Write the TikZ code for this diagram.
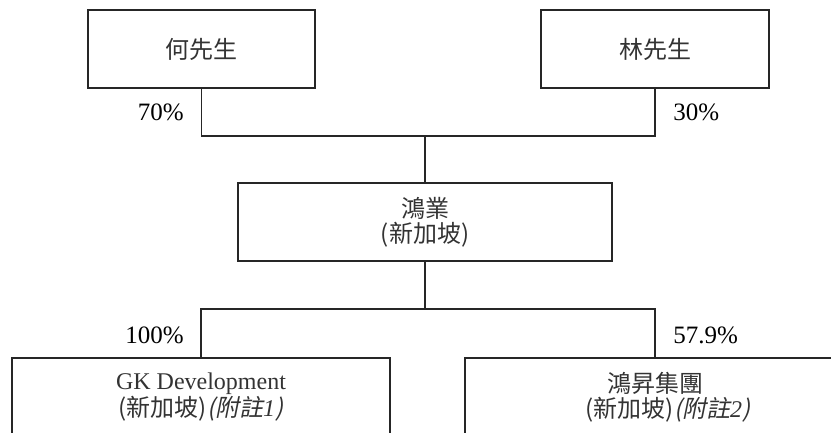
\documentclass[tikz,border=0pt]{standalone}
\usepackage{fontspec}
\setmainfont{Liberation Serif}
\newfontfamily\cjk{Noto Sans CJK TC}
\newfontfamily\cjkit[FakeSlant=0.2]{Noto Sans CJK TC}

\begin{document}
\begin{tikzpicture}[x=0.5pt, y=-0.5pt,
    box/.style={draw=black!85, line width=0.6pt, minimum height=39pt, align=center, inner sep=0pt, font=\fontsize{12}{12.5}\selectfont, text=black!80},
    pct/.style={inner sep=0pt, font=\fontsize{12.5}{14}\selectfont, text=black},
    link/.style={draw=black!85, line width=0.6pt}]
    \clip (0, 0) rectangle (831, 433);

    % shareholders
    \node[box, minimum width=113.5pt] (ho) at (201.5, 49) {\cjk 何先生};
    \node[box, minimum width=114pt] (lin) at (655, 49) {\cjk 林先生};

    % holding company
    \node[box, minimum width=187pt] (hy) at (425, 222) {{\cjk 鴻業}\\{\cjk (新加坡)}};

    % subsidiaries
    \node[box, minimum width=189pt] (gk) at (201, 397) {GK Development\\{\cjk (新加坡)}{\cjkit (附註}\textit{1}{\cjkit )}};
    \node[box, minimum width=190pt] (hs) at (655, 397) {{\cjk 鴻昇集團}\\\hspace{13pt}{\cjk (新加坡)}{\cjkit (附註}\textit{2}{\cjkit )}};

    \coordinate (topbar) at (425, 136);
    \coordinate (botbar) at (425, 309);

    \draw[link] (ho.south) |- (topbar) -| (lin.south);
    \draw[link] (topbar) -- (hy.north);
    \draw[link] (hy.south) -- (botbar);
    \draw[link] (gk.north) |- (botbar) -| (hs.north);

    \node[pct, anchor=east] (p70) at (184, 112) {70\%};
    \node[pct, anchor=west] (p30) at (673, 112) {30\%};
    \node[pct, anchor=east] (p100) at (184, 335) {100\%};
    \node[pct, anchor=west] (p579) at (673, 335) {57.9\%};
\end{tikzpicture}
\end{document}
